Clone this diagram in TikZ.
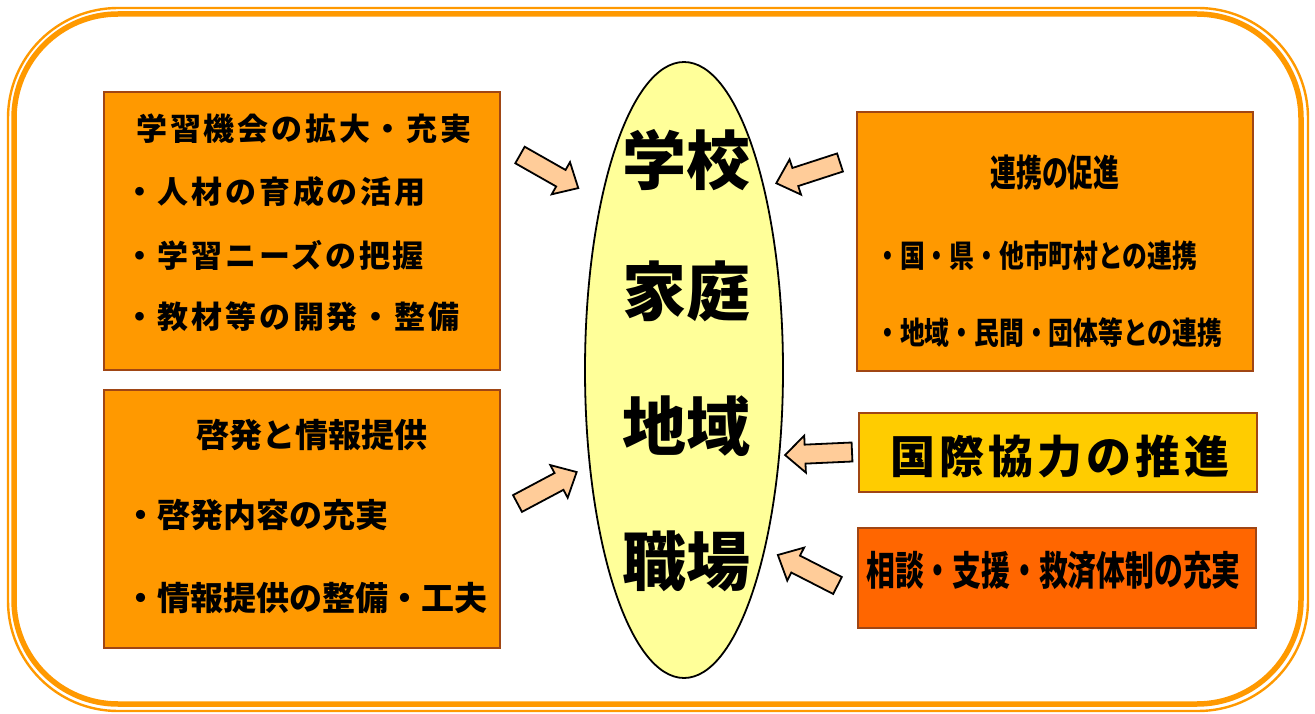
\documentclass[tikz,border=0pt]{standalone}
\usepackage{fontspec}
\usetikzlibrary{shapes.geometric}
\setmainfont{Noto Sans CJK JP}
\newfontfamily\jp{Noto Sans CJK JP}
\newfontfamily\jpL{Noto Sans CJK JP}[LetterSpace=9]
\newfontfamily\jpI{Noto Sans CJK JP}[LetterSpace=9]
\newfontfamily\jpT{Noto Sans CJK JP}[FakeStretch=0.7]
\newfontfamily\jpS{Noto Sans CJK JP}[FakeStretch=0.8]
\newfontfamily\jpR{Noto Sans CJK JP}[FakeStretch=0.72]
\definecolor{frameorange}{HTML}{FF9900}
\definecolor{boxorange}{HTML}{FF9900}
\definecolor{boxyellow}{HTML}{FFCC00}
\definecolor{boxred}{HTML}{FF6600}
\definecolor{boxedge}{RGB}{160,70,20}
\definecolor{corefill}{HTML}{FFFF99}
\definecolor{arrowfill}{HTML}{FFCC99}
\tikzset{
  obox/.style={draw=boxedge, line width=1.5, rectangle, inner sep=0},
  txt/.style={inner sep=0, text=black},
  arrowbody/.style={draw=black, fill=arrowfill, line width=1.8, line join=miter},
  barrow/.pic={\draw[arrowbody] (0,-9.5) -- (47,-9.5) -- (47,-18.5) -- (67,0) -- (47,18.5) -- (47,9.5) -- (0,9.5) -- cycle;}
}
\begin{document}
\begin{tikzpicture}[x=1pt,y=-1pt]
\useasboundingbox (0,0) rectangle (1315,714);
% frame
\draw[frameorange, line width=2.4, rounded corners=110] (8,8) rectangle (1308,711);
\draw[frameorange, line width=5.5, rounded corners=104] (14,14) rectangle (1301,704);
% boxes
\node[obox, fill=boxorange, minimum width=396, minimum height=278] (b1) at (302,231) {};
\node[obox, fill=boxorange, minimum width=396, minimum height=258] (b2) at (302,519) {};
\node[obox, fill=boxorange, minimum width=396, minimum height=259] (b3) at (1055,241.5) {};
\node[obox, fill=boxyellow, minimum width=398, minimum height=79] (b4) at (1058,452.5) {};
\node[obox, fill=boxred, minimum width=398, minimum height=100] (b5) at (1057,578) {};
% core ellipse
\node[draw=black, line width=1.8, ellipse, fill=corefill, minimum width=198, minimum height=616, inner sep=0] (core) at (684,370) {};
% core text
\node[txt] (c1) at (686,160) {\fontsize{64}{70}\selectfont\bfseries 学校};
\node[txt] (c2) at (686,291) {\fontsize{64}{70}\selectfont\bfseries 家庭};
\node[txt] (c3) at (686,426) {\fontsize{64}{70}\selectfont\bfseries 地域};
\node[txt] (c4) at (686,561) {\fontsize{64}{70}\selectfont\bfseries 職場};
% box1 text
\node[txt] (t11) at (304,128.5) {\jpL\fontsize{31}{36}\selectfont\bfseries 学習機会の拡大・充実};
\node[txt, anchor=west] (t12) at (124,191.5) {\jpL\fontsize{31}{36}\selectfont\bfseries ・人材の育成の活用};
\node[txt, anchor=west] (t13) at (124,255) {\jpL\fontsize{31}{36}\selectfont\bfseries ・学習ニーズの把握};
\node[txt, anchor=west] (t14) at (124,317) {\jpL\fontsize{31}{36}\selectfont\bfseries ・教材等の開発・整備};
% box2 text
\node[txt] (t21) at (312,435) {\fontsize{33}{38}\selectfont\bfseries 啓発と情報提供};
\node[txt, anchor=west] (t22) at (124.5,515) {\fontsize{33}{38}\selectfont\bfseries ・啓発内容の充実};
\node[txt, anchor=west] (t23) at (124.5,598) {\fontsize{33}{38}\selectfont\bfseries ・情報提供の整備・工夫};
% box3 text
\node[txt] (t31) at (1055,172) {\jpT\fontsize{37}{40}\selectfont\bfseries 連携の促進};
\node[txt, anchor=west] (t32) at (875,256) {\jpS\fontsize{31}{36}\selectfont\bfseries ・国・県・他市町村との連携};
\node[txt, anchor=west] (t33) at (875,333) {\jpS\fontsize{31}{36}\selectfont\bfseries ・地域・民間・団体等との連携};
% box4 text
\node[txt] (t41) at (1060,456) {\jpI\fontsize{45}{50}\selectfont\bfseries 国際協力の推進};
% box5 text
\node[txt, anchor=west] (t51) at (866,570) {\jpR\fontsize{40}{44}\selectfont\bfseries 相談・支援・救済体制の充実};
% block arrows
\pic[rotate=-29.6] at (520,155) {barrow};
\pic[rotate=28] at (517.5,503.5) {barrow};
\pic[rotate=198] at (840,162.5) {barrow};
\pic[rotate=182.6] at (852,452) {barrow};
\pic[rotate=152.9] at (837.5,585.5) {barrow};
\end{tikzpicture}
\end{document}
